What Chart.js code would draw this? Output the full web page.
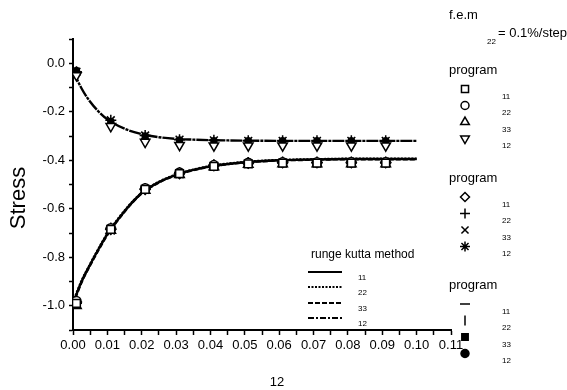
<!DOCTYPE html>
<html>
<head>
<meta charset="utf-8">
<script src="https://cdn.jsdelivr.net/npm/chart.js@4/dist/chart.umd.min.js"></script>
<style>
  html, body { margin: 0; padding: 0; background: #fff; }
</style>
</head>
<body>
<canvas id="myChart" width="567" height="390"></canvas>
<script>
// strain 12 where the program reports its values
const xPts = [0.001, 0.011, 0.021, 0.031, 0.041, 0.051, 0.061, 0.071, 0.081, 0.091];

// program 1 (square, circle, triangle, down triangle)
const p1_11 = [-0.99, -0.685, -0.52, -0.455, -0.425, -0.415, -0.412, -0.412, -0.412, -0.412];
const p1_22 = [-0.98, -0.68, -0.515, -0.45, -0.42, -0.41, -0.408, -0.408, -0.408, -0.408];
const p1_33 = [-1.0, -0.69, -0.525, -0.46, -0.428, -0.418, -0.415, -0.415, -0.415, -0.415];
const p1_12 = [-0.05, -0.26, -0.325, -0.338, -0.34, -0.34, -0.34, -0.34, -0.34, -0.34];

// program 2 (diamond, plus, cross, asterisk)
const p2_11 = [-0.985, -0.685, -0.52, -0.455, -0.422, -0.412, -0.41, -0.41, -0.41, -0.41];
const p2_22 = [-0.99, -0.68, -0.518, -0.452, -0.42, -0.41, -0.408, -0.408, -0.408, -0.408];
const p2_33 = [-0.995, -0.69, -0.522, -0.457, -0.425, -0.415, -0.412, -0.412, -0.412, -0.412];
const p2_12 = [-0.035, -0.235, -0.298, -0.315, -0.318, -0.32, -0.32, -0.32, -0.32, -0.32];

// program 3 (dash, bar, filled square, filled circle)
const p3_11 = [-0.99, -0.685, -0.52, -0.455, -0.423, -0.413, -0.41, -0.41, -0.41, -0.41];
const p3_22 = [-0.985, -0.68, -0.518, -0.452, -0.42, -0.41, -0.408, -0.408, -0.408, -0.408];
const p3_33 = [-0.99, -0.688, -0.522, -0.456, -0.425, -0.415, -0.412, -0.412, -0.412, -0.412];
const p3_12 = [-0.03, -0.24, -0.30, -0.316, -0.32, -0.32, -0.32, -0.32, -0.32, -0.32];

// runge kutta method
const rkX  = [0, 0.0025, 0.005, 0.0075, 0.01, 0.015, 0.02, 0.025, 0.03, 0.035, 0.04, 0.05, 0.06, 0.07, 0.08, 0.09, 0.1];
const rk11 = [-0.99, -0.90, -0.83, -0.765, -0.705, -0.61, -0.535, -0.49, -0.46, -0.44, -0.425, -0.408, -0.40, -0.397, -0.395, -0.395, -0.395];
const rk22 = [-0.985, -0.897, -0.828, -0.763, -0.703, -0.608, -0.534, -0.489, -0.459, -0.439, -0.424, -0.407, -0.399, -0.396, -0.394, -0.394, -0.394];
const rk33 = [-0.995, -0.903, -0.833, -0.768, -0.708, -0.612, -0.537, -0.492, -0.461, -0.441, -0.426, -0.409, -0.401, -0.398, -0.396, -0.396, -0.396];
const rk12 = [-0.03, -0.104, -0.159, -0.200, -0.231, -0.270, -0.292, -0.305, -0.312, -0.315, -0.317, -0.319, -0.32, -0.32, -0.32, -0.32, -0.32];

const xLabels = ['0.00', '0.01', '0.02', '0.03', '0.04', '0.05', '0.06', '0.07', '0.08', '0.09', '0.10', '0.11'];
const yLabels = ['0.0', '-0.2', '-0.4', '-0.6', '-0.8', '-1.0'];
const components = ['11', '22', '33', '12'];

const FONT = 'Liberation Sans, Arial, sans-serif';

// marker look for every program / component (legend size, plot size)
const programStyles = [
  [{ s: 'rect', r: 5, pr: 5.5 }, { s: 'circle', r: 4, pr: 4.5 }, { s: 'triangle', r: 5, pr: 5.5 }, { s: 'triangle', r: 5, pr: 5.5, rot: 180 }],
  [{ s: 'rectRot', r: 4.5, pr: 5 }, { s: 'cross', r: 5, pr: 5.5 }, { s: 'crossRot', r: 5, pr: 5.5 }, { s: 'star', r: 5, pr: 5.5 }],
  [{ s: 'line', r: 5, pr: 5.5 }, { s: 'line', r: 5, pr: 5.5, rot: 90 }, { s: 'rect', r: 4.5, pr: 4, fill: true }, { s: 'circle', r: 4, pr: 3, fill: true }]
];
const programData = [
  [p1_11, p1_22, p1_33, p1_12],
  [p2_11, p2_22, p2_33, p2_12],
  [p3_11, p3_22, p3_33, p3_12]
];

function pts(xs, ys) {
  return xs.map((x, i) => ({ x: x, y: ys[i] }));
}

const datasets = [];
programData.forEach((group, g) => {
  group.forEach((ys, c) => {
    const st = programStyles[g][c];
    datasets.push({
      type: 'scatter',
      label: 'program ' + (g + 1) + ' ' + components[c],
      data: pts(xPts, ys),
      pointStyle: st.s,
      pointRotation: st.rot || 0,
      pointRadius: st.pr,
      pointBorderWidth: 1.5,
      pointBorderColor: '#000',
      pointBackgroundColor: st.fill ? '#000' : '#fff',
      showLine: false
    });
  });
});

const rkDashes = [[], [2, 1.5], [5, 2], [6, 2, 2, 2]];
const rkPlotDashes = [[], [2, 1.5], [5, 2], [12, 1, 3, 1]];
[rk11, rk22, rk33, rk12].forEach((ys, c) => {
  datasets.push({
    type: 'line',
    label: 'runge kutta ' + components[c],
    data: pts(rkX, ys),
    borderColor: '#000',
    borderWidth: 2.4,
    borderDash: rkPlotDashes[c],
    pointRadius: 0,
    fill: false,
    cubicInterpolationMode: 'monotone'
  });
});

// titles and the three legends are drawn by hand
const annotations = {
  id: 'annotations',
  afterDraw(chart) {
    const ctx = chart.ctx;
    ctx.save();
    ctx.fillStyle = '#000';
    ctx.textBaseline = 'middle';
    ctx.textAlign = 'left';

    // axis titles
    ctx.font = '13px ' + FONT;
    ctx.textAlign = 'center';
    ctx.fillText('12', 277, 382);
    ctx.save();
    ctx.translate(19, 198);
    ctx.rotate(-Math.PI / 2);
    ctx.font = '22px ' + FONT;
    ctx.fillText('Stress', 0, 0);
    ctx.restore();

    // f.e.m header
    ctx.textAlign = 'left';
    ctx.font = '13px ' + FONT;
    ctx.fillText('f.e.m', 449, 15);
    ctx.fillText('= 0.1%/step', 498, 33);
    ctx.font = '8px ' + FONT;
    ctx.fillText('22', 487, 42);

    // program legends
    const titleY = [70, 178, 285];
    programStyles.forEach((group, g) => {
      ctx.font = '13px ' + FONT;
      ctx.fillStyle = '#000';
      ctx.fillText('program', 449, titleY[g]);
      group.forEach((st, c) => {
        const my = titleY[g] + 19 + c * 16.5;
        ctx.strokeStyle = '#000';
        ctx.fillStyle = st.fill ? '#000' : '#fff';
        ctx.lineWidth = 1.5;
        ctx.setLineDash([]);
        Chart.helpers.drawPoint(ctx, { pointStyle: st.s, rotation: st.rot || 0, radius: st.r, borderWidth: 1.5 }, 465, my);
        ctx.fillStyle = '#000';
        ctx.font = '8px ' + FONT;
        ctx.fillText(components[c], 502, my + 7.5);
      });
    });

    // runge kutta legend
    ctx.font = '12px ' + FONT;
    ctx.fillText('runge kutta method', 311, 255);
    const lineY = [272, 287, 303, 318];
    rkDashes.forEach((d, c) => {
      ctx.strokeStyle = '#000';
      ctx.lineWidth = 2;
      ctx.setLineDash(d);
      ctx.beginPath();
      ctx.moveTo(308, lineY[c]);
      ctx.lineTo(342, lineY[c]);
      ctx.stroke();
      ctx.setLineDash([]);
      ctx.font = '8px ' + FONT;
      ctx.fillText(components[c], 358, lineY[c] + 6);
    });
    ctx.restore();
  }
};

new Chart('myChart', {
  data: { datasets: datasets },
  options: {
    responsive: false,
    animation: false,
    devicePixelRatio: 1,
    layout: { padding: { left: 0, right: 116, top: 39, bottom: 0 } },
    plugins: { legend: { display: false }, tooltip: { enabled: false } },
    scales: {
      x: {
        type: 'linear',
        min: 0,
        max: 0.11,
        afterBuildTicks: s => {
          const t = [];
          for (let i = 0; i <= 22; i++) t.push({ value: i * 0.005 });
          s.ticks = t;
        },
        afterFit: s => { s.height = 60; },
        ticks: {
          autoSkip: false,
          maxRotation: 0,
          color: '#000',
          padding: 3,
          font: { family: FONT, size: 13 },
          callback: (v, i) => (i % 2 === 0 ? xLabels[i / 2] : '')
        },
        grid: { drawOnChartArea: false, tickLength: 5, tickColor: '#000', tickWidth: 1.5 },
        border: { color: '#000', width: 2 }
      },
      y: {
        type: 'linear',
        min: -1.1,
        max: 0.1,
        afterBuildTicks: s => {
          const t = [];
          for (let i = -11; i <= 1; i++) t.push({ value: i / 10 });
          s.ticks = t;
        },
        afterFit: s => { s.width = 73; },
        ticks: {
          autoSkip: false,
          color: '#000',
          padding: 4,
          font: { family: FONT, size: 13 },
          callback: v => {
            const n = Math.round(v * 10);
            return (n <= 0 && n >= -10 && n % 2 === 0) ? yLabels[-n / 2] : '';
          }
        },
        grid: { drawOnChartArea: false, tickLength: 4, tickColor: '#000', tickWidth: 1.5 },
        border: { color: '#000', width: 2 }
      }
    }
  },
  plugins: [annotations]
});
</script>
</body>
</html>
